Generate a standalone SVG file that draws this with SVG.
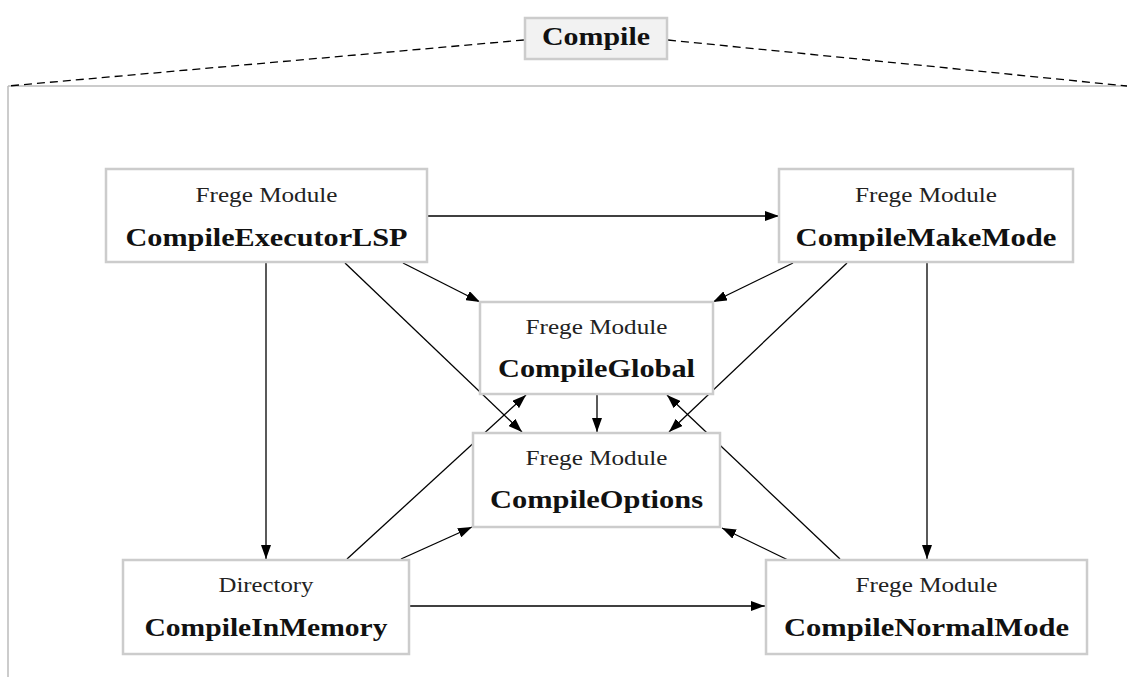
<svg xmlns="http://www.w3.org/2000/svg" width="1127" height="677" viewBox="0 0 1127 677">
<style>
.box{fill:#fff;stroke:#cccccc;stroke-width:2.5}
.sub{font-family:"Liberation Serif",serif;font-size:20px;fill:#222;text-anchor:middle}
.name{font-family:"Liberation Serif",serif;font-size:25px;font-weight:bold;fill:#111;text-anchor:middle}
.edge{stroke:#000;stroke-width:1.3;fill:none;marker-end:url(#arr)}
</style>
<defs>
<marker id="arr" markerUnits="userSpaceOnUse" markerWidth="14" markerHeight="10" viewBox="0 0 14 10" refX="14" refY="5" orient="auto">
<path d="M0,0 L14,5 L0,10 z" fill="#000"/>
</marker>
</defs>
<rect width="1127" height="677" fill="#fff"/>
<g id="container">
<line x1="8" y1="86" x2="1127" y2="86" stroke="#bbbbbb" stroke-width="1.5"/>
<line x1="8" y1="86" x2="8" y2="677" stroke="#bbbbbb" stroke-width="1.5"/>
<line x1="524" y1="40" x2="8" y2="86" stroke="#000" stroke-width="1.3" stroke-dasharray="8,5"/>
<line x1="668" y1="40" x2="1127" y2="86" stroke="#000" stroke-width="1.3" stroke-dasharray="8,5"/>
</g>
<g id="compile">
<rect x="525" y="18" width="142" height="41" fill="#f2f2f2" stroke="#cccccc" stroke-width="2.5"/>
<text x="596" y="45" class="name" font-size="23" textLength="108" lengthAdjust="spacingAndGlyphs">Compile</text>
</g>
<g id="connectors">
<line class="edge" x1="428" y1="216" x2="779" y2="216"/>
<line class="edge" x1="403" y1="263" x2="480" y2="302"/>
<line class="edge" x1="345" y1="263" x2="522" y2="432"/>
<line class="edge" x1="266" y1="263" x2="266" y2="559"/>
<line class="edge" x1="793" y1="263" x2="713" y2="302"/>
<line class="edge" x1="847" y1="263" x2="669" y2="432"/>
<line class="edge" x1="927" y1="263" x2="927" y2="559"/>
<line class="edge" x1="597" y1="395" x2="597" y2="432"/>
<line class="edge" x1="347" y1="559" x2="526" y2="395"/>
<line class="edge" x1="401" y1="559" x2="472" y2="527"/>
<line class="edge" x1="409" y1="606" x2="765" y2="606"/>
<line class="edge" x1="788" y1="560" x2="722" y2="528"/>
<line class="edge" x1="840" y1="559" x2="667" y2="395"/>
</g>
<g id="CompileExecutorLSP">
<rect class="box" x="106" y="169" width="321" height="93"/>
<text class="sub" x="266.5" y="202" textLength="142" lengthAdjust="spacingAndGlyphs">Frege Module</text>
<text class="name" x="266.5" y="246" textLength="282" lengthAdjust="spacingAndGlyphs">CompileExecutorLSP</text>
</g>
<g id="CompileMakeMode">
<rect class="box" x="779" y="169" width="294" height="93"/>
<text class="sub" x="926" y="202" textLength="142" lengthAdjust="spacingAndGlyphs">Frege Module</text>
<text class="name" x="926" y="246" textLength="261" lengthAdjust="spacingAndGlyphs">CompileMakeMode</text>
</g>
<g id="CompileGlobal">
<rect class="box" x="480" y="302" width="233" height="92"/>
<text class="sub" x="596.5" y="334" textLength="142" lengthAdjust="spacingAndGlyphs">Frege Module</text>
<text class="name" x="596.5" y="377" textLength="197" lengthAdjust="spacingAndGlyphs">CompileGlobal</text>
</g>
<g id="CompileOptions">
<rect class="box" x="473" y="433" width="247" height="94"/>
<text class="sub" x="596.5" y="465" textLength="142" lengthAdjust="spacingAndGlyphs">Frege Module</text>
<text class="name" x="596.5" y="508" textLength="213" lengthAdjust="spacingAndGlyphs">CompileOptions</text>
</g>
<g id="CompileInMemory">
<rect class="box" x="123" y="560" width="286" height="94"/>
<text class="sub" x="266" y="592" textLength="95" lengthAdjust="spacingAndGlyphs">Directory</text>
<text class="name" x="266" y="636" textLength="243" lengthAdjust="spacingAndGlyphs">CompileInMemory</text>
</g>
<g id="CompileNormalMode">
<rect class="box" x="766" y="560" width="321" height="94"/>
<text class="sub" x="926.5" y="592" textLength="142" lengthAdjust="spacingAndGlyphs">Frege Module</text>
<text class="name" x="926.5" y="636" textLength="285" lengthAdjust="spacingAndGlyphs">CompileNormalMode</text>
</g>
</svg>
